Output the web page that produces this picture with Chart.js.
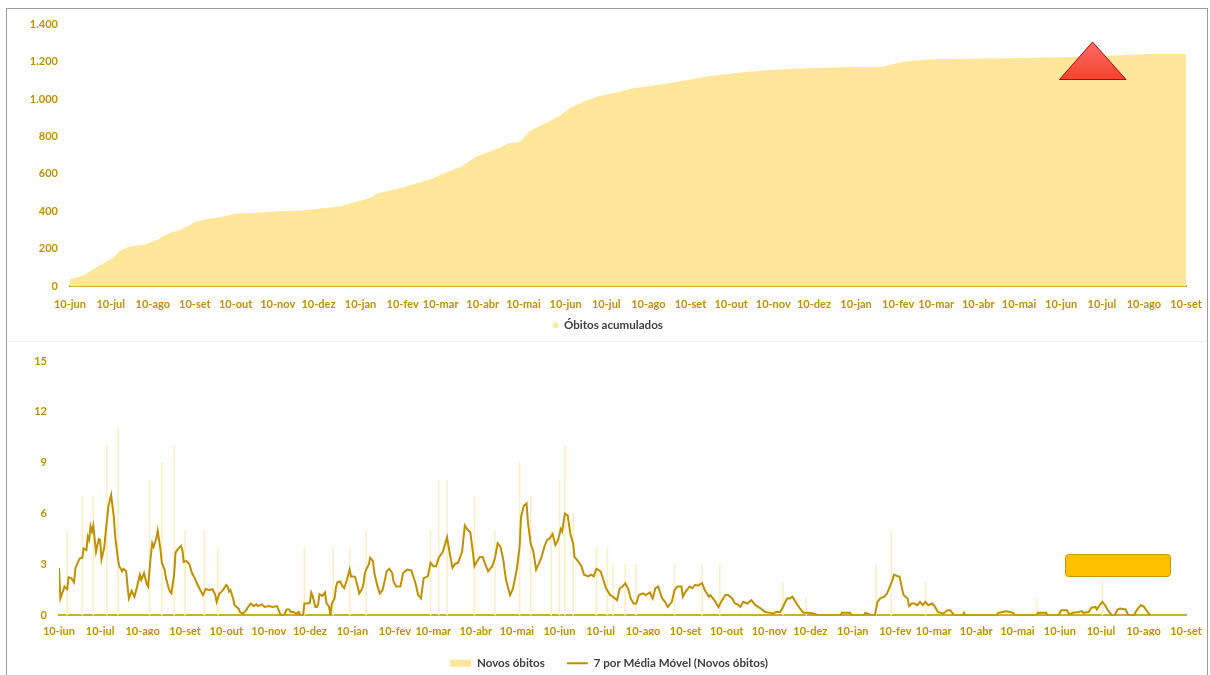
<!DOCTYPE html>
<html>
<head>
<meta charset="utf-8">
<script src="https://cdn.jsdelivr.net/npm/chart.js@4.4.1/dist/chart.umd.min.js"></script>
<style>
  html, body { margin: 0; padding: 0; overflow: hidden; background: #fff; }
  #frame { position: absolute; left: 6px; top: 8px; width: 1200px; height: 720px; border: 1.5px solid #9d9d9d; }
  #sep { position: absolute; left: 8px; top: 341px; width: 1198px; height: 1px; background: #eeeeee; }
  canvas { position: absolute; }
</style>
</head>
<body>
<div id="frame"></div>
<div id="sep"></div>
<canvas id="accumChart" width="1198" height="332" style="left:8px;top:9px"></canvas>
<canvas id="dailyChart" width="1198" height="337" style="left:8px;top:342px"></canvas>
<script>
// x axis: days counted from 10 Jun 2020
const startDate = new Date(2020, 5, 10);
const tickLabels = ["10-jun", "10-jul", "10-ago", "10-set", "10-out", "10-nov", "10-dez",
  "10-jan", "10-fev", "10-mar", "10-abr", "10-mai", "10-jun", "10-jul", "10-ago", "10-set",
  "10-out", "10-nov", "10-dez", "10-jan", "10-fev", "10-mar", "10-abr", "10-mai", "10-jun",
  "10-jul", "10-ago", "10-set"];

// Óbitos acumulados
const accumDay = [0, 10, 20, 31, 37, 44, 55, 65, 68, 76, 82, 92, 100, 111, 122, 135, 151, 172, 178,
  199, 213, 223, 226, 240, 256, 264, 274, 288, 299, 315, 323, 331, 339, 349, 360, 368, 379, 392,
  405, 414, 440, 468, 496, 515, 538, 566, 599, 613, 639, 664, 692, 733, 761, 795, 822];
const accumDeaths = [40, 58, 103, 149, 192, 213, 224, 250, 267, 290, 304, 344, 358, 370, 389, 392,
  400, 406, 410, 427, 456, 477, 496, 518, 552, 566, 598, 638, 691, 736, 764, 771, 830, 866, 905,
  951, 988, 1020, 1038, 1056, 1083, 1119, 1142, 1154, 1163, 1169, 1172, 1199, 1213, 1215, 1217,
  1222, 1229, 1240, 1240];

// Novos óbitos (visible daily spikes)
const newDay = [6, 17, 25, 35, 43, 66, 75, 84, 92, 106, 116, 179, 200, 212, 224, 271, 277, 283,
  303, 318, 336, 344, 359, 365, 369, 375, 392, 400, 404, 413, 421, 449, 469, 482, 528, 545, 596,
  607, 632, 713, 761];
const newDeaths = [5, 7, 7, 10, 11, 8, 9, 10, 5, 5, 4, 4, 4, 4, 5, 5, 8, 8, 7, 5, 9, 7, 5, 8, 10,
  6, 4, 4, 3, 3, 3, 3, 3, 3, 2, 1, 3, 5, 2, 1, 2];

// 7 por Média Móvel (Novos óbitos)
const avgDay = [0, 1, 4, 6, 7, 9, 11, 12, 15, 17, 18, 20, 21, 22, 23, 24, 25, 27, 29, 30, 31, 33,
  34, 36, 38, 40, 41, 43, 44, 46, 47, 49, 50, 51, 53, 55, 57, 59, 60, 62, 64, 65, 67, 68, 69, 71,
  72, 74, 75, 77, 78, 80, 81, 82, 84, 85, 87, 89, 90, 91, 93, 95, 97, 99, 100, 103, 105, 107, 110,
  112, 114, 115, 117, 118, 120, 122, 123, 124, 125, 127, 128, 131, 132, 134, 136, 138, 140, 142,
  144, 145, 148, 150, 153, 156, 159, 161, 162, 164, 166, 168, 169, 171, 173, 175, 176, 178, 179,
  181, 183, 184, 185, 187, 188, 189, 190, 192, 194, 195, 197, 198, 199, 201, 202, 203, 205, 207,
  208, 210, 212, 213, 215, 216, 218, 219, 221, 222, 223, 224, 226, 227, 229, 230, 232, 234, 236,
  238, 239, 241, 243, 244, 246, 249, 251, 254, 257, 260, 262, 264, 266, 269, 271, 273, 275, 277,
  280, 283, 285, 287, 289, 291, 294, 296, 298, 300, 302, 303, 305, 307, 309, 311, 313, 316, 318,
  320, 322, 324, 326, 329, 331, 334, 336, 337, 339, 341, 342, 344, 346, 348, 350, 352, 354, 356,
  358, 360, 362, 364, 366, 367, 369, 371, 373, 375, 376, 379, 381, 383, 386, 388, 390, 392, 395,
  397, 399, 402, 404, 407, 409, 411, 413, 415, 417, 419, 421, 423, 426, 428, 431, 433, 435, 437,
  440, 442, 444, 447, 449, 451, 454, 455, 457, 460, 462, 464, 466, 469, 471, 474, 475, 478, 481,
  483, 486, 488, 491, 493, 495, 497, 499, 502, 505, 508, 510, 512, 515, 519, 521, 523, 526, 528,
  531, 533, 535, 538, 540, 543, 547, 551, 554, 570, 571, 577, 578, 587, 588, 590, 592, 595, 597,
  599, 602, 604, 606, 608, 609, 612, 613, 615, 616, 619, 620, 622, 624, 626, 628, 630, 632, 634,
  637, 639, 641, 643, 645, 648, 650, 653, 659, 660, 661, 684, 685, 691, 696, 697, 713, 714, 720,
  721, 729, 731, 735, 737, 739, 744, 746, 747, 751, 753, 756, 757, 759, 761, 763, 765, 768, 770,
  772, 774, 778, 780, 784, 786, 789, 791, 794, 796];
const avgDeaths = [2.8, 1.0, 1.7, 1.55, 2.25, 2.2, 1.95, 2.8, 3.35, 3.4, 3.95, 3.85, 4.65, 4.45,
  5.25, 4.95, 5.3, 3.75, 4.5, 4.45, 3.3, 4.0, 4.85, 6.4, 7.1, 5.8, 4.65, 3.3, 2.9, 2.6, 2.75, 2.6,
  1.7, 1.0, 1.45, 1.1, 1.7, 2.4, 2.1, 2.5, 1.85, 1.7, 3.55, 4.25, 4.05, 4.55, 5.0, 3.9, 3.1, 2.7,
  2.2, 1.6, 1.4, 1.3, 2.45, 3.7, 3.95, 4.1, 3.85, 3.15, 3.2, 3.05, 2.5, 2.2, 2.0, 1.5, 1.2, 1.55,
  1.5, 1.55, 1.2, 0.8, 1.3, 1.35, 1.55, 1.8, 1.7, 1.4, 1.5, 1.0, 0.6, 0.4, 0.2, 0.1, 0.25, 0.5,
  0.7, 0.55, 0.65, 0.55, 0.65, 0.5, 0.55, 0.5, 0.55, 0.15, 0, 0, 0.35, 0.35, 0.2, 0.2, 0.1, 0.2,
  0, 0, 0.7, 0.7, 0.75, 1.35, 1.15, 0.5, 0.5, 0.65, 1.25, 1.15, 1.35, 0.75, 0.5, 0, 0.7, 1.0,
  1.65, 1.95, 2.0, 1.7, 1.6, 2.1, 2.7, 2.3, 2.3, 2.25, 1.65, 1.3, 1.55, 1.8, 2.45, 2.7, 3.0, 3.4,
  3.2, 2.5, 1.8, 1.3, 1.5, 2.2, 2.6, 2.75, 2.5, 2.0, 1.7, 1.7, 2.5, 2.7, 2.65, 1.9, 1.2, 1.0, 2.2,
  2.3, 3.1, 2.9, 2.9, 3.4, 3.75, 4.6, 3.65, 2.8, 3.05, 3.1, 3.75, 5.3, 5.05, 4.9, 3.65, 2.9, 3.2,
  3.45, 3.45, 3.0, 2.6, 2.9, 3.4, 4.25, 4.05, 3.3, 2.1, 1.2, 1.55, 2.75, 4.1, 5.8, 6.45, 6.6, 5.5,
  4.25, 3.75, 2.7, 3.05, 3.45, 4.05, 4.45, 4.55, 4.8, 4.15, 4.45, 5.1, 4.95, 6.0, 5.9, 4.8, 4.25,
  3.45, 3.15, 2.9, 2.4, 2.3, 2.4, 2.3, 2.75, 2.6, 2.1, 1.6, 1.2, 1.1, 0.9, 1.6, 1.7, 1.9, 1.6,
  1.0, 0.7, 0.7, 1.2, 1.3, 1.2, 1.35, 1.0, 1.6, 1.7, 1.0, 0.8, 0.5, 0.8, 1.5, 1.7, 1.7, 1.1, 1.4,
  1.7, 1.6, 1.8, 1.75, 1.9, 1.5, 1.1, 1.2, 0.9, 0.5, 0.8, 1.2, 1.2, 1.0, 0.7, 0.65, 0.5, 0.8, 0.7,
  0.9, 0.6, 0.5, 0.4, 0.2, 0.15, 0.1, 0.2, 0.2, 0.5, 1.0, 1.0, 1.1, 0.7, 0.45, 0.15, 0.15, 0.1, 0,
  0, 0.15, 0.15, 0, 0, 0.15, 0.1, 0, 0, 0.8, 1.0, 1.1, 1.3, 1.7, 2.1, 2.4, 2.3, 2.3, 1.55, 1.2,
  1.0, 0.55, 0.7, 0.7, 0.6, 0.8, 0.6, 0.8, 0.6, 0.7, 0.5, 0.2, 0.15, 0.1, 0.3, 0.3, 0, 0, 0.15, 0,
  0, 0.15, 0.25, 0.15, 0, 0, 0.15, 0.15, 0, 0, 0.3, 0.3, 0.05, 0.15, 0.2, 0.25, 0.15, 0.2, 0.45,
  0.5, 0.35, 0.6, 0.8, 0.6, 0.3, 0, 0, 0.35, 0.4, 0.35, 0, 0, 0.3, 0.6, 0.55, 0.2, 0];

const gold = "#BF9000";
const tickFont = { family: "Lato", size: 11, weight: "bold" };
const legendFont = { family: "Lato", size: 11.6, weight: "bold" };

const tickDays = tickLabels.map(function (lbl, i) {
  const d = new Date(2020, 5 + i, 10);
  return Math.round((d - startDate) / 86400000);
});
const lastDay = tickDays[tickDays.length - 1];

function pairs(xs, ys) {
  return xs.map(function (x, i) { return { x: x, y: ys[i] }; });
}

function xScale(height, pad) {
  return {
    type: "linear",
    min: 0,
    max: lastDay,
    offset: false,
    grid: { display: false, drawTicks: false },
    border: { display: true, color: "#CDAA3A", width: 2 },
    afterBuildTicks: function (scale) {
      scale.ticks = tickDays.map(function (d) { return { value: d }; });
    },
    afterFit: function (scale) {
      scale.height = height;
      scale.paddingLeft = 0;
      scale.paddingRight = 0;
    },
    ticks: {
      autoSkip: false,
      maxRotation: 0,
      padding: pad,
      color: gold,
      font: tickFont,
      callback: function (value, index) { return tickLabels[index]; }
    }
  };
}

function yFit(width) {
  return function (scale) {
    scale.width = width;
    scale.paddingTop = 0;
    scale.paddingBottom = 0;
  };
}

// nudges the legend sideways so it sits where the original one does
const legendShift = {
  id: "legendShift",
  afterLayout: function (chart, args, opts) {
    if (chart.legend && opts.dx) {
      chart.legend.left += opts.dx;
      chart.legend.right += opts.dx;
    }
  }
};

// red triangle and orange box drawn over the charts
const triangleMark = {
  id: "triangleMark",
  afterDraw: function (chart) {
    const ctx = chart.ctx;
    ctx.save();
    const g = ctx.createLinearGradient(0, 33, 0, 70);
    g.addColorStop(0, "#FF6A6A");
    g.addColorStop(1, "#F4442C");
    ctx.beginPath();
    ctx.moveTo(1084.5, 33);
    ctx.lineTo(1118, 70.5);
    ctx.lineTo(1051.5, 70.5);
    ctx.closePath();
    ctx.fillStyle = g;
    ctx.fill();
    ctx.strokeStyle = "#C00000";
    ctx.lineWidth = 1;
    ctx.stroke();
    ctx.restore();
  }
};

const boxMark = {
  id: "boxMark",
  afterDraw: function (chart) {
    const ctx = chart.ctx;
    ctx.save();
    ctx.beginPath();
    ctx.roundRect(1057.5, 212.5, 105, 22, 3);
    ctx.fillStyle = "#FFC000";
    ctx.fill();
    ctx.strokeStyle = "#C59A00";
    ctx.lineWidth = 1;
    ctx.stroke();
    ctx.restore();
  }
};

document.addEventListener("DOMContentLoaded", function () {
  // top chart: cumulative deaths
  new Chart(document.getElementById("accumChart"), {
    type: "line",
    data: {
      datasets: [{
        label: "Óbitos acumulados",
        data: pairs(accumDay, accumDeaths),
        fill: "origin",
        backgroundColor: "#FFE699",
        borderColor: "#FFE699",
        borderWidth: 0,
        pointRadius: 0,
        tension: 0
      }]
    },
    options: {
      responsive: false,
      animation: false,
      layout: { padding: { left: 0, right: 20, top: 15, bottom: 0 } },
      plugins: {
        tooltip: { enabled: false },
        legendShift: { dx: 11 },
        legend: {
          position: "bottom",
          labels: {
            color: "#404040",
            font: legendFont,
            boxWidth: 5,
            boxHeight: 5,
            padding: 8
          }
        }
      },
      scales: {
        x: xScale(25, 11),
        y: {
          min: 0,
          max: 1400,
          grid: { display: false, drawTicks: false },
          border: { display: false },
          afterFit: yFit(62),
          ticks: {
            stepSize: 200,
            padding: 12,
            color: gold,
            font: tickFont,
            callback: function (v) { return String(v).replace(/\B(?=(\d{3})+(?!\d))/g, "."); }
          }
        }
      }
    },
    plugins: [legendShift, triangleMark]
  });

  // bottom chart: daily deaths and 7-day moving average
  new Chart(document.getElementById("dailyChart"), {
    type: "bar",
    data: {
      datasets: [{
        type: "bar",
        label: "Novos óbitos",
        data: pairs(newDay, newDeaths),
        backgroundColor: "#FCEFC6",
        borderWidth: 0,
        barThickness: 1,
        order: 2
      }, {
        type: "line",
        label: "7 por Média Móvel (Novos óbitos)",
        data: pairs(avgDay, avgDeaths),
        borderColor: gold,
        backgroundColor: gold,
        borderWidth: 2,
        pointRadius: 0,
        tension: 0,
        fill: false,
        order: 1
      }]
    },
    options: {
      responsive: false,
      animation: false,
      layout: { padding: { left: 0, right: 20, top: 19, bottom: 0 } },
      plugins: {
        tooltip: { enabled: false },
        legendShift: { dx: 12 },
        legend: {
          position: "bottom",
          labels: {
            color: "#404040",
            font: legendFont,
            usePointStyle: true,
            pointStyleWidth: 21,
            boxHeight: 7,
            padding: 22,
            sort: function (a, b) { return a.datasetIndex - b.datasetIndex; },
            generateLabels: function (chart) {
              return chart.data.datasets.map(function (ds, i) {
                return {
                  text: ds.label,
                  datasetIndex: i,
                  fillStyle: ds.type === "bar" ? "#FFE699" : gold,
                  strokeStyle: ds.type === "bar" ? "#FFE699" : gold,
                  lineWidth: ds.type === "bar" ? 0 : 2,
                  pointStyle: ds.type === "bar" ? "rect" : "line",
                  fontColor: "#404040",
                  hidden: false
                };
              });
            }
          }
        }
      },
      scales: {
        x: xScale(20, 9),
        y: {
          min: 0,
          max: 15,
          grid: { display: false, drawTicks: false },
          border: { display: false },
          afterFit: yFit(51),
          ticks: {
            stepSize: 3,
            padding: 12,
            color: gold,
            font: tickFont
          }
        }
      }
    },
    plugins: [legendShift, boxMark]
  });
});
</script>
</body>
</html>
